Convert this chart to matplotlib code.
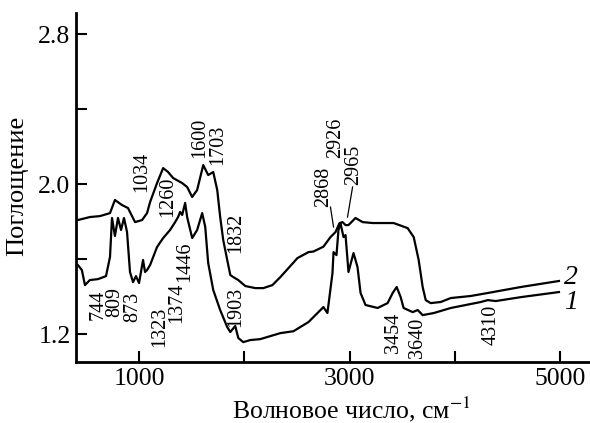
import matplotlib
matplotlib.use("Agg")
import matplotlib.pyplot as plt

plt.rcParams['font.family'] = ['Liberation Serif', 'DejaVu Serif']
plt.rcParams['mathtext.fontset'] = 'stix'

# curve 2 (upper)
wn2 = [419, 533, 629, 724, 771, 838, 895, 962, 1029, 1076, 1105, 1171, 1229, 1276,
       1324, 1410, 1457, 1505, 1552, 1610, 1657, 1705, 1743, 1771, 1800, 1838, 1867,
       1895, 1943, 2010, 2105, 2181, 2267, 2343, 2438, 2505, 2610, 2657, 2752, 2819,
       2867, 2905, 2933, 2962, 2990, 3057, 3124, 3219, 3419, 3552, 3610, 3657, 3695,
       3724, 3771, 3867, 3962, 4152, 4314, 4629, 4990]
abs2 = [1.808, 1.824, 1.829, 1.845, 1.915, 1.888, 1.872, 1.797, 1.808, 1.845, 1.904,
        2.005, 2.085, 2.064, 2.032, 2.005, 1.984, 1.931, 1.968, 2.101, 2.048, 2.064,
        1.968, 1.824, 1.701, 1.595, 1.515, 1.504, 1.488, 1.456, 1.445, 1.445, 1.461,
        1.504, 1.563, 1.605, 1.637, 1.640, 1.666, 1.717, 1.744, 1.792, 1.797, 1.781,
        1.781, 1.819, 1.797, 1.792, 1.792, 1.765, 1.717, 1.595, 1.451, 1.381, 1.365,
        1.371, 1.392, 1.403, 1.419, 1.451, 1.483]

# curve 1 (lower)
wn1 = [419, 457, 486, 533, 610, 686, 724, 743, 771, 800, 829, 857, 886, 914, 943, 971,
       1000, 1038, 1057, 1076, 1105, 1171, 1229, 1295, 1343, 1371, 1390, 1410, 1438,
       1457, 1505, 1552, 1600, 1629, 1657, 1705, 1771, 1838, 1867, 1914, 1943, 1990,
       2057, 2152, 2343, 2467, 2610, 2724, 2752, 2790, 2838, 2848, 2876, 2895, 2914,
       2943, 2962, 2990, 3038, 3076, 3105, 3152, 3267, 3362, 3410, 3448, 3486, 3514,
       3600, 3648, 3695, 3800, 3962, 4248, 4314, 4390, 4629, 4990]
abs1 = [1.568, 1.541, 1.461, 1.488, 1.493, 1.509, 1.611, 1.819, 1.723, 1.819, 1.755,
        1.819, 1.744, 1.531, 1.477, 1.509, 1.472, 1.595, 1.531, 1.541, 1.568, 1.664,
        1.712, 1.755, 1.797, 1.824, 1.851, 1.835, 1.899, 1.824, 1.712, 1.755, 1.845,
        1.771, 1.579, 1.435, 1.328, 1.237, 1.211, 1.243, 1.179, 1.157, 1.168, 1.173,
        1.205, 1.215, 1.264, 1.328, 1.344, 1.312, 1.525, 1.637, 1.621, 1.755, 1.792,
        1.717, 1.728, 1.531, 1.632, 1.557, 1.419, 1.355, 1.339, 1.365, 1.419, 1.451,
        1.397, 1.339, 1.317, 1.328, 1.301, 1.312, 1.339, 1.371, 1.381, 1.376, 1.397,
        1.424]

# peak labels: text, wavenumber of label, top of label
peak_text = ['744', '809', '873', '1034', '1260', '1323', '1374', '1446', '1600',
             '1703', '1832', '1903', '2868', '2926', '2965', '3454', '3640', '4310']
peak_x = [610, 771, 943, 1029, 1276, 1200, 1362, 1438, 1581, 1752, 1914, 1914,
          2752, 2867, 3038, 3419, 3648, 4343]
peak_top = [1.435, 1.451, 1.424, 2.171, 2.037, 1.344, 1.472, 1.691, 2.352, 2.315,
            1.845, 1.451, 2.091, 2.352, 2.208, 1.312, 1.285, 1.355]

# leader lines for 2868 and 2965
leaders = [([2819, 2848], [1.877, 1.771]), ([3029, 2981], [1.984, 1.824])]

fig = plt.figure(figsize=(5.9, 4.23), dpi=100)
ax = fig.add_axes([76 / 590, 1 - 362 / 423, 514 / 590, 349 / 423])

ax.plot(wn2, abs2, color='black', lw=1.6)
ax.plot(wn1, abs1, color='black', lw=1.6)
for lx, ly in leaders:
    ax.plot(lx, ly, color='black', lw=0.9)

for t, x, y in zip(peak_text, peak_x, peak_top):
    ax.text(x, y, t, rotation=90, ha='center', va='top', fontsize=14.5)

ax.text(5040, 1.50, '2', fontsize=20, style='italic', va='center')
ax.text(5035, 1.37, '1', fontsize=20, style='italic', va='center')

ax.set_xlim(401, 5285)
ax.set_ylim(1.051, 2.912)
ax.set_xticks([1000, 2000, 3000, 4000, 5000])
ax.set_xticklabels(['1000', '', '3000', '', '5000'])
ax.set_yticks([1.2, 1.6, 2.0, 2.4, 2.8])
ax.set_yticklabels(['1.2', '', '2.0', '', '2.8'])
ax.tick_params(direction='in', length=8, width=1.5, labelsize=18.5)
ax.tick_params(axis='x', pad=4)
ax.tick_params(axis='y', pad=4)

for s in ['top', 'right']:
    ax.spines[s].set_visible(False)
for s in ['left', 'bottom']:
    ax.spines[s].set_linewidth(2)

fig.text(351 / 590, 1 - 418 / 423, 'Волновое число, см$^{-1}$', fontsize=18.5,
         ha='center', va='baseline')
fig.text(17 / 590, 1 - 186 / 423, 'Поглощение', fontsize=19, rotation=90,
         ha='center', va='center')

fig.savefig('out.png', dpi=100)
